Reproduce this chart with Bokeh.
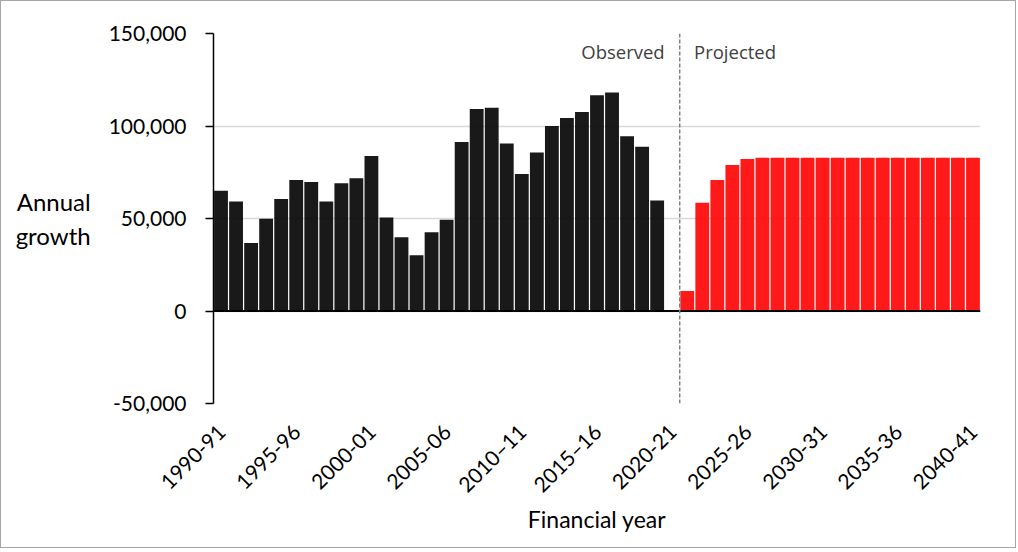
import numpy as np
from math import pi
from bokeh.plotting import figure
from bokeh.models import Range1d, FixedTicker, NumeralTickFormatter, Span, Label
from bokeh.embed import file_html
from bokeh.resources import INLINE

# ---------------- data ----------------
categories = [f"{y}-{str(y + 1)[-2:]}" for y in range(1990, 2041)]

observed = [65000, 59200, 36800, 49800, 60500, 70800, 69700, 59200, 69100, 71700,
            83800, 50500, 39900, 30100, 42600, 49300, 91300, 109200, 109800, 90600,
            74000, 85700, 100000, 104300, 107600, 116600, 118100, 94400, 88800, 59700,
            0]

projected = [10800, 58500, 70800, 78900, 82100, 82900, 82900, 82900, 82900, 82900,
             82900, 82900, 82900, 82900, 82900, 82900, 82900, 82900, 82900, 82900]

tick_labels = ["1990-91", "1995-96", "2000-01", "2005-06", "2010–11", "2015–16",
               "2020-21", "2025-26", "2030-31", "2035-36", "2040-41"]
y_ticks = [-50000, 0, 50000, 100000, 150000]

# ---------------- figure ----------------
FONT = "Lato"
n = len(categories)
p = figure(width=1016, height=548,
           x_range=Range1d(0, n), y_range=Range1d(-50000, 150000),
           output_backend="svg", toolbar_location=None,
           min_border_left=212, min_border_right=37,
           min_border_top=32, min_border_bottom=146)
p.outline_line_color = None
p.styles = {"border": "1px solid #a6a6a6"}

p.xgrid.visible = False
p.ygrid.grid_line_color = "#d9d9d9"
p.ygrid.grid_line_width = 1.5

x_obs = np.arange(len(observed)) + 0.5
x_proj = len(observed) + np.arange(len(projected)) + 0.5

p.vbar(x=x_obs, top=observed, bottom=0, width=0.92,
       fill_color="black", fill_alpha=0.9, line_color=None)
p.vbar(x=x_proj, top=projected, bottom=0, width=0.92,
       fill_color="#ff0000", fill_alpha=0.9, line_color=None)

p.add_layout(Span(location=0, dimension="width", line_color="black", line_width=2))
p.add_layout(Span(location=len(observed), dimension="height", line_color="#7f7f7f",
                  line_dash="4 2", line_width=1.5))

# y axis
ya = p.yaxis[0]
ya.ticker = FixedTicker(ticks=y_ticks)
ya.formatter = NumeralTickFormatter(format="0,0")
ya.axis_line_color = "black"
ya.axis_line_width = 1.5
ya.major_tick_line_color = "black"
ya.major_tick_line_width = 1.5
ya.major_tick_out = 8
ya.major_tick_in = 0
ya.minor_tick_line_color = None
ya.major_label_text_font = FONT
ya.major_label_text_font_size = "21px"
ya.major_label_text_color = "black"
ya.major_label_standoff = 19
ya.axis_label = "Annual\ngrowth"
ya.axis_label_orientation = "horizontal"
ya.axis_label_text_font = FONT
ya.axis_label_text_font_size = "24px"
ya.axis_label_text_font_style = "normal"
ya.axis_label_text_color = "black"
ya.axis_label_standoff = 15

# x axis
xa = p.xaxis[0]
tick_pos = [categories.index(t.replace("–", "-")) + 0.5 for t in tick_labels]
xa.ticker = FixedTicker(ticks=tick_pos)
xa.major_label_overrides = {pos: lab for pos, lab in zip(tick_pos, tick_labels)}
xa.major_label_orientation = pi / 4
xa.axis_line_color = None
xa.major_tick_line_color = None
xa.minor_tick_line_color = None
xa.major_label_text_font = FONT
xa.major_label_text_font_size = "21px"
xa.major_label_text_color = "black"
xa.major_label_standoff = 18
xa.axis_label = "Financial year"
xa.axis_label_text_font = FONT
xa.axis_label_text_font_size = "23px"
xa.axis_label_text_font_style = "normal"
xa.axis_label_text_color = "black"
xa.axis_label_standoff = -3

# texts
def add_label(x, y, text, align="left", font="Open Sans", size="18.5px", color="#404040"):
    p.add_layout(Label(x=x, y=y, text=text, text_align=align, text_baseline="alphabetic",
                       text_font=font, text_font_size=size, text_color=color))

add_label(len(observed) - 1.0, 140500, "Observed", align="right")
add_label(len(observed) + 0.95, 140500, "Projected", align="left")

open("out.html", "w").write(file_html(p, INLINE))
